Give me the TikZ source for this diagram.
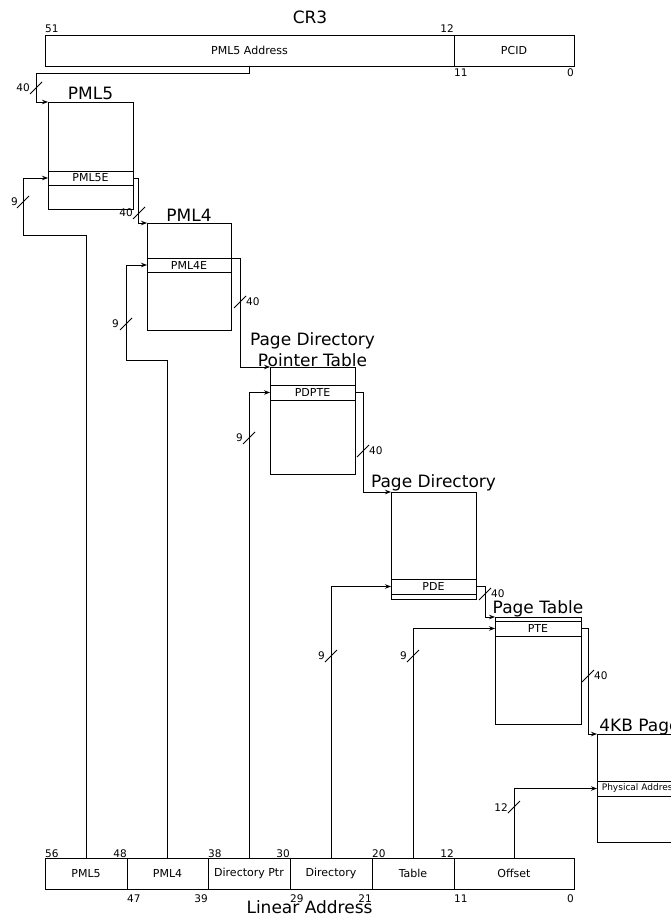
\documentclass[tikz,border=0pt]{standalone}
\usepackage{fontspec}
\setmainfont{DejaVu Sans}
\usetikzlibrary{arrows.meta}
\begin{document}
\begin{tikzpicture}[x=1pt,y=-1pt,
  ln/.style={line width=0.9pt, line join=miter},
  fld/.style={draw, line width=0.9pt, inner sep=0pt, outer sep=0pt, anchor=north west, font=\fontsize{11}{13}\selectfont},
  tbl/.style={draw, line width=0.9pt, inner sep=0pt, outer sep=0pt, anchor=north west},
  num/.style={inner sep=0pt, font=\fontsize{10.5}{12}\selectfont},
  ttl/.style={inner sep=0pt, anchor=base, font=\fontsize{17}{20}\selectfont},
  arr/.style={ln, -{Stealth[length=6pt,width=4.5pt]}},
  slashln/.style={line width=0.8pt}
]
\useasboundingbox (0,0) rectangle (671,917);
\clip (0,0) rectangle (671,917);

% ---------- CR3 ----------
\node[ttl] (tcr3) at (310,24) {CR3};
\node[fld, minimum width=409pt, minimum height=31pt] (cr3a) at (45,35) {PML5 Address};
\node[fld, minimum width=120pt, minimum height=31pt] (cr3b) at (454,35) {PCID};
\node[num, anchor=base west] (c51) at (45,33) {51};
\node[num, anchor=base east] (c12) at (454,33) {12};
\node[num, anchor=base west] (c11) at (454,77) {11};
\node[num, anchor=base east] (c0) at (574,77) {0};

% ---------- tables ----------
\node[ttl] (tpml5) at (90.5,100) {PML5};
\node[tbl, minimum width=85pt, minimum height=107pt] (pml5) at (48,102) {};
\node[fld, minimum width=85pt, minimum height=14pt] (pml5e) at (48,171) {PML5E};

\node[ttl] (tpml4) at (189,222) {PML4};
\node[tbl, minimum width=84pt, minimum height=107pt] (pml4) at (147,223) {};
\node[fld, minimum width=84pt, minimum height=14pt] (pml4e) at (147,258) {PML4E};

\node[ttl] (tpdpt1) at (312.5,345) {Page Directory};
\node[ttl] (tpdpt2) at (312.5,366) {Pointer Table};
\node[tbl, minimum width=85pt, minimum height=107pt] (pdpt) at (270,367) {};
\node[fld, minimum width=85pt, minimum height=15pt] (pdpte) at (270,385) {PDPTE};

\node[ttl] (tpd) at (433.5,487) {Page Directory};
\node[tbl, minimum width=85pt, minimum height=107pt] (pd) at (391,492) {};
\node[fld, minimum width=85pt, minimum height=15pt] (pde) at (391,579) {PDE};

\node[ttl] (tpt) at (538,613) {Page Table};
\node[tbl, minimum width=86pt, minimum height=107pt] (pt) at (495,617) {};
\node[fld, minimum width=86pt, minimum height=15pt] (pte) at (495,621) {PTE};

\node[ttl] (tpage) at (639.5,731.5) {4KB Page};
\node[tbl, minimum width=85pt, minimum height=108pt] (page) at (597,734) {};
\node[fld, minimum width=85pt, minimum height=15pt, font=\fontsize{9}{11}\selectfont] (phys) at (597,781) {Physical Address};

% ---------- Linear address ----------
\node[fld, minimum width=82pt, minimum height=31pt] (l1) at (45,858) {PML5};
\node[fld, minimum width=81pt, minimum height=31pt] (l2) at (127,858) {PML4};
\node[fld, minimum width=82pt, minimum height=31pt] (l3) at (208,858) {Directory Ptr};
\node[fld, minimum width=82pt, minimum height=31pt] (l4) at (290,858) {Directory};
\node[fld, minimum width=82pt, minimum height=31pt] (l5) at (372,858) {Table};
\node[fld, minimum width=120pt, minimum height=31pt] (l6) at (454,858) {Offset};
\node[num, anchor=base west] (b56) at (45,857) {56};
\node[num, anchor=base east] (b48) at (127,857) {48};
\node[num, anchor=base west] (b38) at (208,857) {38};
\node[num, anchor=base east] (b30) at (290,857) {30};
\node[num, anchor=base west] (b20) at (372,857) {20};
\node[num, anchor=base east] (b12) at (454,857) {12};
\node[num, anchor=base west] (b47) at (127,902) {47};
\node[num, anchor=base east] (b39) at (208,902) {39};
\node[num, anchor=base west] (b29) at (290,902) {29};
\node[num, anchor=base east] (b21) at (372,902) {21};
\node[num, anchor=base west] (b11) at (454,902) {11};
\node[num, anchor=base east] (b0) at (574,902) {0};
\node[ttl] (tlin) at (309.5,913) {Linear Address};

% ---------- connectors ----------
\draw[arr] (cr3a.south) -- (249.5,73) -- (36,73) -- (36,102) -- (pml5.north west);
\draw[arr] (l1.north) -- (86,235) -- (23,235) -- (23,178) -- (pml5e.west);
\draw[arr] (pml5e.east) -- (138,178) -- (138,223) -- (pml4.north west);
\draw[arr] (l2.north) -- (167.5,360) -- (126,360) -- (126,265) -- (pml4e.west);
\draw[arr] (pml4e.north east) -- (240,258) -- (240,367) -- (pdpt.north west);
\draw[arr] (l3.north) |- (pdpte.west);
\draw[arr] (pdpte.east) -- (363,392.5) -- (363,492) -- (pd.north west);
\draw[arr] (l4.north) |- (pde.west);
\draw[arr] (pde.east) -- (485,586.5) -- (485,617) -- (pt.north west);
\draw[arr] (l5.north) |- (pte.west);
\draw[arr] (pte.east) -- (588,628.5) -- (588,734) -- (page.north west);
\draw[arr] (l6.north) |- (phys.west);

% ---------- bus-width slashes ----------
\draw[slashln] (30,94) -- (42,82);   \node[num, anchor=east] (s1) at (30,88) {40};
\draw[slashln] (17,208) -- (29,196); \node[num, anchor=east] (s2) at (18,202) {9};
\draw[slashln] (133,219) -- (145,207); \node[num, anchor=east] (s3) at (133,213) {40};
\draw[slashln] (120,330) -- (132,318); \node[num, anchor=east] (s4) at (119,324) {9};
\draw[slashln] (234,308) -- (246,296); \node[num, anchor=west] (s5) at (246,302) {40};
\draw[slashln] (243,444) -- (255,432); \node[num, anchor=east] (s6) at (243,438) {9};
\draw[slashln] (357,457) -- (369,445); \node[num, anchor=west] (s7) at (369,451) {40};
\draw[slashln] (325,662) -- (337,650); \node[num, anchor=east] (s8) at (325,656) {9};
\draw[slashln] (479,600) -- (491,588); \node[num, anchor=west] (s9) at (491,594) {40};
\draw[slashln] (407,662) -- (419,650); \node[num, anchor=east] (s10) at (407,656) {9};
\draw[slashln] (582,682) -- (594,670); \node[num, anchor=west] (s11) at (594,676) {40};
\draw[slashln] (508,813) -- (520,801); \node[num, anchor=east] (s12) at (508,808) {12};
\end{tikzpicture}
\end{document}
